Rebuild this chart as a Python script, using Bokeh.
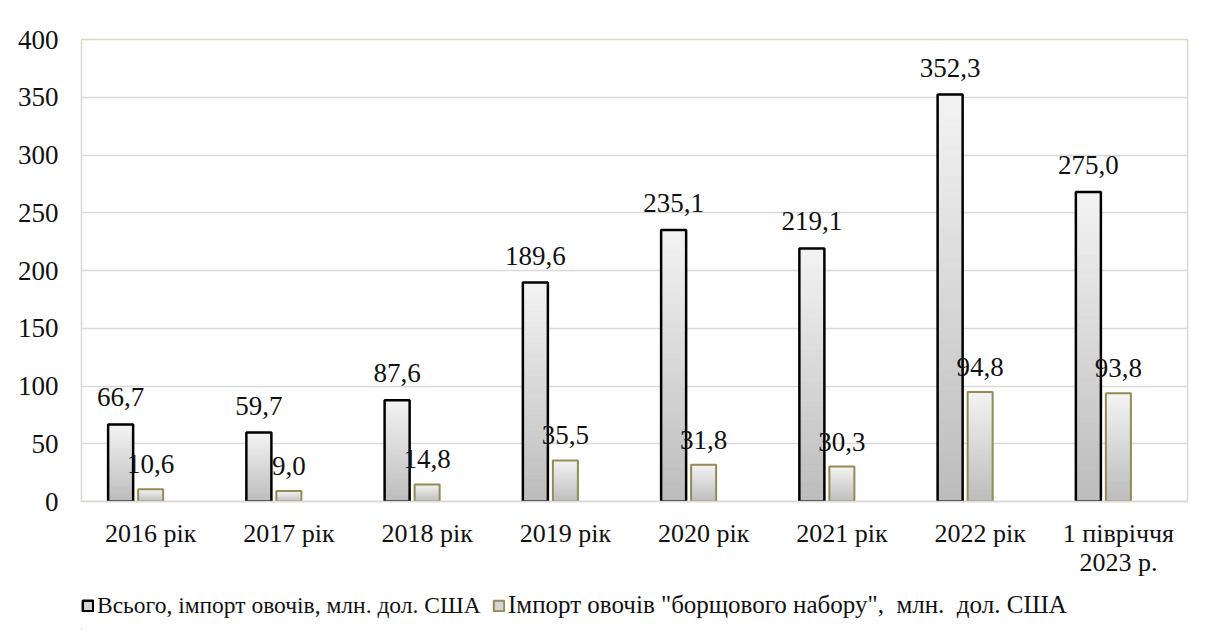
from bokeh.plotting import figure
from bokeh.layouts import column
from bokeh.models import (ColumnDataSource, Range1d, FixedTicker,
                          Legend, LegendItem, LinearAxis)
from bokeh.transform import dodge
from bokeh.core.properties import value
from bokeh.embed import file_html
from bokeh.resources import INLINE

# ---- data ----
categories = ["2016 рік", "2017 рік", "2018 рік", "2019 рік", "2020 рік",
              "2021 рік", "2022 рік", "1 півріччя 2023 р."]
cat_line1 = ["2016 рік", "2017 рік", "2018 рік", "2019 рік", "2020 рік",
             "2021 рік", "2022 рік", "1 півріччя"]
cat_line2 = ["", "", "", "", "", "", "", "2023 р."]
total_import = [66.7, 59.7, 87.6, 189.6, 235.1, 219.1, 352.3, 268.0]
total_labels = ["66,7", "59,7", "87,6", "189,6", "235,1", "219,1", "352,3", "275,0"]
borsch_import = [10.6, 9.0, 14.8, 35.5, 31.8, 30.3, 94.8, 93.8]
borsch_labels = ["10,6", "9,0", "14,8", "35,5", "31,8", "30,3", "94,8", "93,8"]
series_names = ["Всього, імпорт овочів, млн. дол. США",
                "Імпорт овочів \"борщового набору\",\u00a0 млн.\u00a0 дол. США"]
y_ticks = [0, 50, 100, 150, 200, 250, 300, 350, 400]

FONT = value("Liberation Serif")
BAR_W = 0.181
OFF1 = -0.217
OFF2 = 0.0
N = 40
TOP_RGB = (243, 243, 243)
BOT_RGB = (188, 188, 188)
TOTAL_W = 1199

xc = [i + 0.5 for i in range(len(categories))]


def grad_color(t):
    r = [int(round(b + (a - b) * t)) for a, b in zip(TOP_RGB, BOT_RGB)]
    return "#%02x%02x%02x" % tuple(r)


def slices(values):
    xs, tops, bots, cols = [], [], [], []
    for c, v in zip(xc, values):
        for k in range(N):
            xs.append(c)
            bots.append(v * k / N)
            tops.append(v * (k + 1) / N)
            cols.append(grad_color((k + 0.5) / N))
    return ColumnDataSource(dict(x=xs, top=tops, bottom=bots, color=cols))


p = figure(x_range=Range1d(0, len(categories)),
           y_range=Range1d(0, 400),
           frame_width=1106, frame_height=462,
           min_border_left=81, min_border_top=39, min_border_right=12,
           min_border_bottom=0,
           output_backend="svg", toolbar_location=None,
           background_fill_color="white", border_fill_color="white")

p.outline_line_color = "#ddd8c4"
p.outline_line_width = 1.5

# grid
p.xgrid.grid_line_color = None
p.ygrid.grid_line_color = "#d9d9d9"
p.ygrid.grid_line_width = 1.5
p.yaxis.ticker = FixedTicker(ticks=y_ticks)

# axes
p.yaxis.axis_line_color = None
p.yaxis.major_tick_line_color = None
p.yaxis.minor_tick_line_color = None
p.yaxis.major_label_text_font = "Liberation Serif"
p.yaxis.major_label_text_font_size = "27px"
p.yaxis.major_label_text_color = "#111111"
p.yaxis.major_label_standoff = 17

p.xaxis.ticker = FixedTicker(ticks=xc)
p.xaxis.axis_line_color = "#d9d9d9"
p.xaxis.axis_line_width = 1.5
p.xaxis.major_tick_line_color = None
p.xaxis.minor_tick_line_color = None
p.xaxis.major_label_text_font = "Liberation Serif"
p.xaxis.major_label_text_font_size = "26px"
p.xaxis.major_label_text_color = "#111111"
p.xaxis.major_label_standoff = 11
p.xaxis.major_label_overrides = {x: t for x, t in zip(xc, cat_line1)}

# second line of the last category label
ax2 = LinearAxis(ticker=FixedTicker(ticks=xc),
                 axis_line_color=None, major_tick_line_color=None,
                 minor_tick_line_color=None,
                 major_label_text_font="Liberation Serif",
                 major_label_text_font_size="26px",
                 major_label_text_color="#111111",
                 major_label_standoff=-9)
ax2.major_label_overrides = {x: (t if t else " ") for x, t in zip(xc, cat_line2)}
p.add_layout(ax2, "below")

src = ColumnDataSource(dict(xc=xc, total=total_import, borsch=borsch_import,
                            tl=total_labels, bl=borsch_labels))

# gradient bodies
for vals, off in ((total_import, OFF1), (borsch_import, OFF2)):
    s = slices(vals)
    p.vbar(x=dodge("x", off), top="top", bottom="bottom",
           width=BAR_W, fill_color="color", line_color="color", line_width=1,
           source=s)

# outlines
p.vbar(x=dodge("xc", OFF1), top="total", width=BAR_W,
       fill_color=None, line_color="black", line_width=2.5, source=src)
p.vbar(x=dodge("xc", OFF2), top="borsch", width=BAR_W,
       fill_color=None, line_color="#948a54", line_width=2, source=src)

# data labels
p.text(x=dodge("xc", OFF1), y="total", text="tl", source=src,
       text_font=FONT, text_font_size="27px", text_color="#111111",
       text_align="center", text_baseline="alphabetic", y_offset=-27)
p.text(x=dodge("xc", OFF2), y="borsch", text="bl", source=src,
       text_font=FONT, text_font_size="27px", text_color="#111111",
       text_align="center", text_baseline="alphabetic", y_offset=-25)

# ---- legend strip ----
lf = figure(width=TOTAL_W, height=50, x_range=Range1d(0, 1), y_range=Range1d(0, 1),
            x_axis_type=None, y_axis_type=None, min_border=0,
            output_backend="svg", toolbar_location=None,
            background_fill_color="white", border_fill_color="white")
lf.outline_line_color = None
lf.xgrid.grid_line_color = None
lf.ygrid.grid_line_color = None
offscreen = ColumnDataSource(dict(x=[-100.0], top=[0.0]))
lg1 = lf.vbar(x="x", top="top", width=0.1, fill_color="#d4d4d4",
              line_color="black", line_width=2.5, source=offscreen)
lg2 = lf.vbar(x="x", top="top", width=0.1, fill_color="#d4d4d4",
              line_color="#948a54", line_width=2, source=offscreen)


def make_legend(item, loc, size):
    lg = Legend(items=[item], orientation="horizontal", location=loc)
    lg.label_text_font = "Liberation Serif"
    lg.label_text_font_size = size
    lg.label_text_color = "#111111"
    lg.glyph_width = 13
    lg.glyph_height = 13
    lg.label_standoff = 3
    lg.padding = 0
    lg.margin = 0
    lg.border_line_color = None
    lg.background_fill_color = None
    return lg


lf.add_layout(make_legend(LegendItem(label=series_names[0], renderers=[lg1]),
                          (0, 10), "23.5px"), "center")
lf.add_layout(make_legend(LegendItem(label=series_names[1], renderers=[lg2]),
                          (411, 10), "25px"), "center")

layout = column(p, lf, spacing=0)
open("out.html", "w").write(file_html(layout, INLINE))
